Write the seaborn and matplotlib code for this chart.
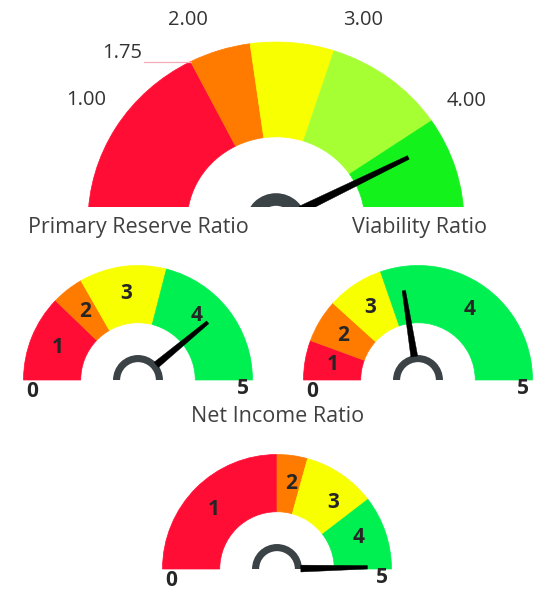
import numpy as np
import matplotlib
matplotlib.use("Agg")
import matplotlib.pyplot as plt
import seaborn as sns
from matplotlib.patches import Wedge, Polygon

sns.set_theme(style="white")
plt.rcParams['font.family'] = ['Open Sans', 'DejaVu Sans']

VMAX = 5.0
RED, ORANGE, YELLOW, YGREEN = "#ff0d35", "#ff7b00", "#f8ff00", "#a6ff33"
GREEN_TOP, GREEN = "#14f21c", "#00f052"

# ---- top gauge ----
top_bounds = [0.0, 1.75, 2.28, 3.0, 4.05, 5.0]
top_colors = [RED, ORANGE, YELLOW, YGREEN, GREEN_TOP]
top_needle = 4.25
top_labels = ["1.00", "1.75", "2.00", "3.00", "4.00"]
top_label_at = [0.94, 1.36, 1.87, 3.12, 4.07]

# ---- small gauges ----
titles = ["Primary Reserve Ratio", "Viability Ratio", "Net Income Ratio"]
small_bounds = [
    [0.0, 1.22, 1.67, 2.9, 5.0],
    [0.0, 0.56, 1.17, 1.97, 5.0],
    [0.0, 2.5, 2.93, 3.96, 5.0],
]
small_colors = [RED, ORANGE, YELLOW, GREEN]
small_needles = [3.9, 2.25, 4.97]
seg_labels = ["1", "2", "3", "4"]
seg_label_at = [
    [0.61, 1.45, 2.29, 3.68],
    [0.28, 0.86, 1.58, 3.5],
    [1.21, 2.76, 3.61, 4.42],
]
end_labels = ["0", "5"]

W, H = 549, 599
fig = plt.figure(figsize=(W / 100, H / 100), dpi=100)
fig.patch.set_facecolor("white")


def make_axes(px0, py0, px1, py1, cx, cy, rx, ry):
    ax = fig.add_axes([px0 / W, 1 - py1 / H, (px1 - px0) / W, (py1 - py0) / H])
    ax.set_xlim((px0 - cx) / rx, (px1 - cx) / rx)
    ax.set_ylim((cy - py1) / ry, (cy - py0) / ry)
    ax.set_aspect("auto")
    ax.axis("off")
    return ax


def ang(v):
    return np.pi * (1 - v / VMAX)


def draw_gauge(ax, bounds, colors, needle, inner, hub_r, hub_w, nlen, bhw, thw):
    for i, c in enumerate(colors):
        t1 = np.degrees(ang(bounds[i + 1]))
        t2 = np.degrees(ang(bounds[i]))
        ax.add_patch(Wedge((0, 0), 1.0, t1, t2, width=1 - inner,
                           facecolor=c, edgecolor=c, lw=0.5))
    ax.add_patch(Wedge((0, 0), hub_r, 0, 180, width=hub_w,
                       facecolor="#3b4347", edgecolor="none"))
    a = ang(needle)
    d = np.array([np.cos(a), np.sin(a)])
    n = np.array([-np.sin(a), np.cos(a)])
    r0 = hub_r - 0.01
    pts = [r0 * d + bhw * n, nlen * d + thw * n, nlen * d - thw * n, r0 * d - bhw * n]
    ax.add_patch(Polygon(pts, closed=True, facecolor="black", edgecolor="black", lw=0.3))


# top gauge (slightly wider than tall)
axt = make_axes(0, 0, W, 207, 276, 222, 188, 180)
draw_gauge(axt, top_bounds, top_colors, top_needle, 0.473, 0.16, 0.07, 0.79, 0.022, 0.011)
for lab, v in zip(top_labels, top_label_at):
    r = 1.246 if lab == "1.75" else 1.215
    a = ang(v)
    axt.text(r * np.cos(a), r * np.sin(a), lab, ha="center", va="center",
             fontsize=14.5, color="#333333", clip_on=False)
# leader line for 1.75
a175 = ang(top_bounds[1])
axt.plot([-0.70, np.cos(a175)], [np.sin(a175), np.sin(a175)],
         color="#f3a9b8", lw=0.9, clip_on=False)

# small gauges
centers = [(138, 380), (418, 380), (277, 569)]
boxes = [(0, 245, 275, 405), (275, 245, 549, 405), (140, 430, 420, 599)]
R = 114.5
for k in range(3):
    cx, cy = centers[k]
    x0, y0, x1, y1 = boxes[k]
    ax = make_axes(x0, y0, x1, y1, cx, cy, R, R)
    ax.set_ylim(ax.get_ylim()[0], ax.get_ylim()[1])
    draw_gauge(ax, small_bounds[k], small_colors, small_needles[k],
               0.5, 0.218, 0.062, 0.79, 0.03, 0.015)
    # clip the flat bottom at the baseline
    for lab, v in zip(seg_labels, seg_label_at[k]):
        a = ang(v)
        ax.text(0.76 * np.cos(a), 0.76 * np.sin(a), lab, ha="center", va="center",
                fontsize=15, fontweight="bold", color="#262626")
    ax.text(-0.92, -0.1, end_labels[0], ha="center", va="center",
            fontsize=15, fontweight="bold", color="#262626", clip_on=False)
    ax.text(0.92, -0.07, end_labels[1], ha="center", va="center",
            fontsize=15, fontweight="bold", color="#262626", clip_on=False)

title_pos = [(138, 228), (419, 228), (278, 416)]
for t, (x, y) in zip(titles, title_pos):
    fig.text(x / W, 1 - y / H, t, ha="center", va="center", fontsize=15.5, color="#404040")

fig.savefig("out.png", dpi=100, facecolor="white")
